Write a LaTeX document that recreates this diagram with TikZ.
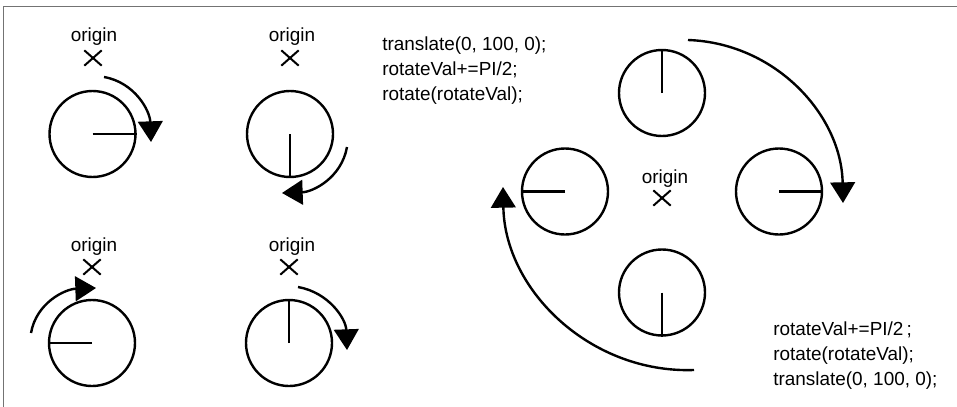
\documentclass[tikz,border=0pt]{standalone}
\usepackage{fontspec}
\setmainfont{Liberation Sans}
\usetikzlibrary{arrows.meta,shapes.misc}
\begin{document}
\begin{tikzpicture}[x=0.75pt,y=0.75pt,
  frame/.style={line width=1.1pt, draw={rgb,255:red,115;green,115;blue,115}},
  wheel/.style={circle, draw, line width=1.8pt, minimum size=64.5pt, inner sep=0pt},
  hand/.style={line width=1.8pt},
  xmark/.style={cross out, draw, line width=1.5pt, minimum width=11.5pt, minimum height=10pt, inner sep=0pt},
  lbl/.style={inner sep=0pt, font=\fontsize{14.2}{17}\selectfont, anchor=base},
  code/.style={lbl, anchor=base west},
  rot/.style={line width=1.8pt, -{Triangle[length=15.5pt,width=18.5pt]}},
]
\useasboundingbox (0,0) rectangle (957,-407);
\coordinate (tl) at (3.5,-6.5);
\coordinate (tr) at (957,-6.5);
\coordinate (bl) at (3.5,-407);
\draw[frame] (bl) -- (tl) -- (tr);

% ---- left: four single rotations ----
\node[wheel] (c1) at (92.5,-134) {};
\node[wheel] (c2) at (290,-134) {};
\node[wheel] (c3) at (92,-343) {};
\node[wheel] (c4) at (289,-343) {};
\draw[hand] (c1.center) -- (c1.east);
\draw[hand] (c2.center) -- (c2.south);
\draw[hand] (c3.center) -- (c3.west);
\draw[hand] (c4.center) -- (c4.north);

\node[lbl] (o1) at (94,-41) {origin};
\node[lbl] (o2) at (292,-41) {origin};
\node[lbl] (o3) at (94,-251) {origin};
\node[lbl] (o4) at (292,-251) {origin};
\node[xmark] (x1) at (93,-58) {};
\node[xmark] (x2) at (290,-58) {};
\node[xmark] (x3) at (92,-267) {};
\node[xmark] (x4) at (289,-267) {};

\coordinate (s1) at (104,-77);  \coordinate (e1) at (151,-142);
\coordinate (s2) at (347,-147); \coordinate (e2) at (282,-193);
\coordinate (s3) at (31,-333);  \coordinate (e3) at (96,-288);
\coordinate (s4) at (298,-287); \coordinate (e4) at (347,-350);
\draw[rot] (s1) to[out=-10, in=92] (e1);
\draw[rot] (s2) to[out=-100, in=2] (e2);
\draw[rot] (s3) to[out=80, in=182] (e3);
\draw[rot] (s4) to[out=-10, in=92] (e4);

% ---- right: orbit around the origin ----
\node[wheel] (c5) at (662,-93) {};
\node[wheel] (c6) at (565,-191.5) {};
\node[wheel] (c7) at (779,-191.5) {};
\node[wheel] (c8) at (662,-292.5) {};
\draw[hand] (c5.center) -- (c5.north);
\draw[hand] (c6.center) -- (c6.west);
\draw[hand] (c7.center) -- (c7.east);
\draw[hand] (c8.center) -- (c8.south);

\node[lbl] (o5) at (665,-183) {origin};
\node[xmark] (x5) at (662,-198) {};

\coordinate (sa) at (688,-40);  \coordinate (ea) at (843,-203);
\coordinate (sb) at (694,-370); \coordinate (eb) at (503,-187);
\draw[rot] (sa) to[out=-2, in=91] (ea);
\draw[rot] (sb) to[out=182, in=-89] (eb);

% ---- code ----
\node[code] (t1) at (382,-50) {translate(0, 100, 0);};
\node[code] (t2) at (382,-75) {rotateVal+=PI/2;};
\node[code] (t3) at (382,-100) {rotate(rotateVal);};
\node[code] (b1) at (773,-335) {rotateVal+=PI/2\,;};
\node[code] (b2) at (773,-360) {rotate(rotateVal);};
\node[code] (b3) at (773,-385) {translate(0, 100, 0);};
\end{tikzpicture}
\end{document}
